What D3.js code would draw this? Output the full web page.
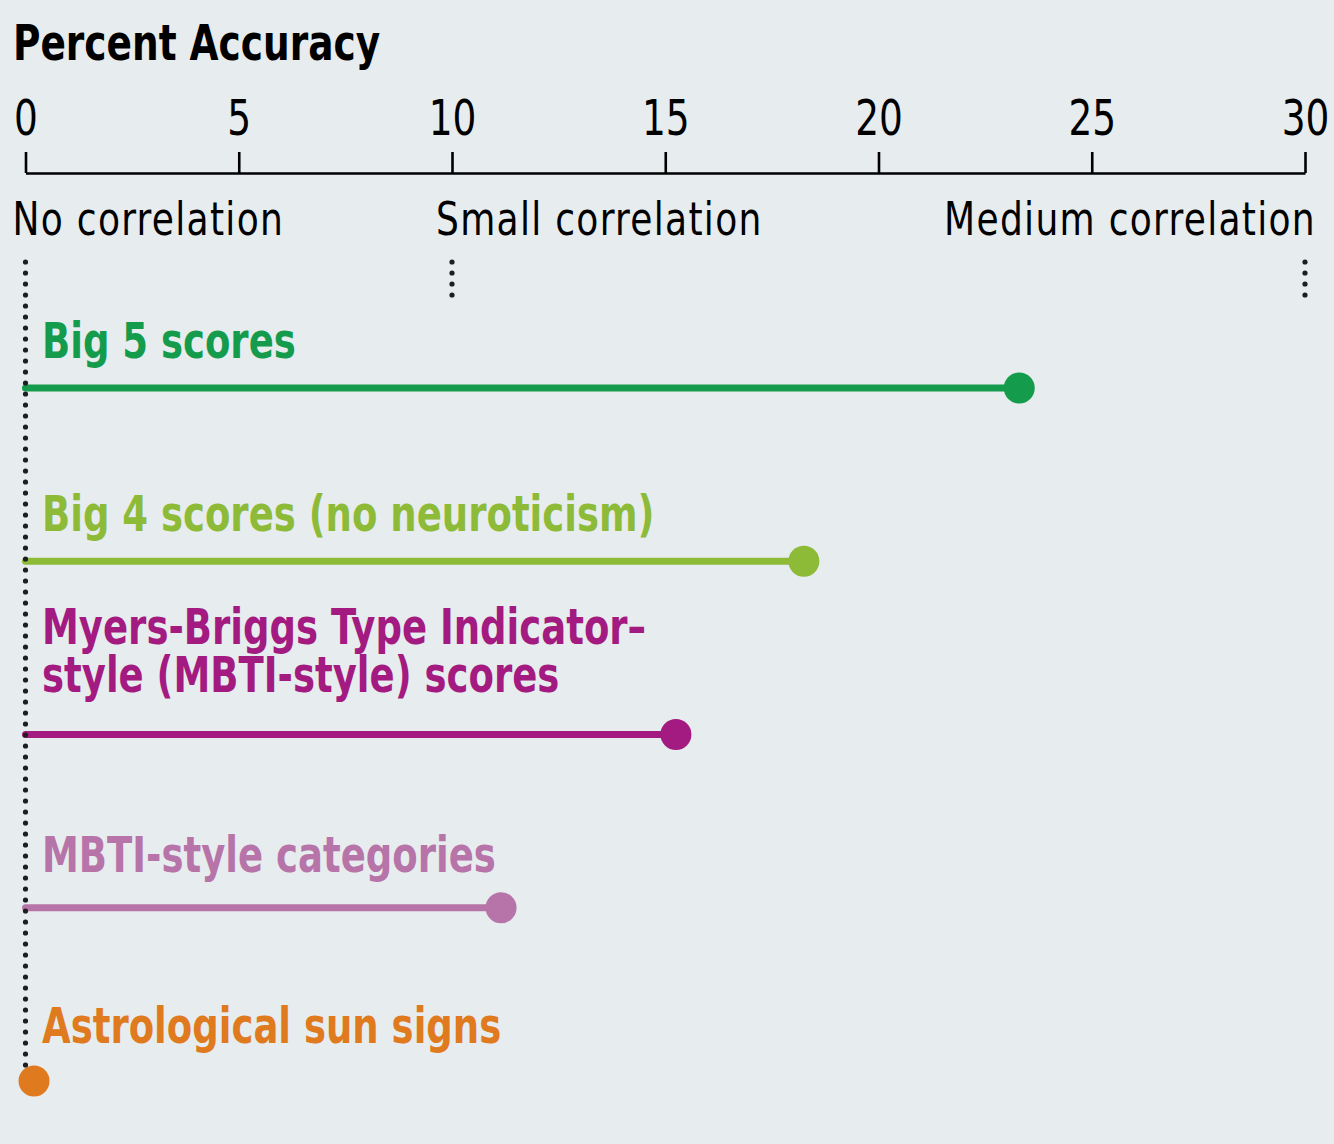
<!DOCTYPE html>
<html lang="en">
<head>
  <meta charset="UTF-8">
  <title>Percent Accuracy</title>
  <script src="https://d3js.org/d3.v7.min.js"></script>
  <style>
    body {
      margin: 0;
      background: #e7ecee;
    }
    svg {
      display: block;
      font-family: "DejaVu Sans Condensed", "DejaVu Sans", sans-serif;
    }
    .title {
      font-size: 49px;
      font-weight: bold;
      fill: #000;
    }
    .axis text {
      font-size: 49px;
      fill: #000;
      font-family: "DejaVu Sans Condensed", "DejaVu Sans", sans-serif;
    }
    .axis path, .axis line {
      stroke: #000;
      stroke-width: 2.6;
    }
    .ref-label {
      font-size: 46px;
      letter-spacing: 1.5px;
      fill: #000;
    }
    .row-label {
      font-size: 49px;
      font-weight: bold;
    }
  </style>
</head>
<body>
  <div id="chart"></div>

  <script>
    // Data
    const categories = [
      "Big 5 scores",
      "Big 4 scores (no neuroticism)",
      "Myers-Briggs Type Indicator–style (MBTI-style) scores",
      "MBTI-style categories",
      "Astrological sun signs"
    ];
    const labelLines = [
      ["Big 5 scores"],
      ["Big 4 scores (no neuroticism)"],
      ["Myers-Briggs Type Indicator–", "style (MBTI-style) scores"],
      ["MBTI-style categories"],
      ["Astrological sun signs"]
    ];
    const values = [23.3, 18.25, 15.25, 11.15, 0.2];
    const colors = ["#159b4c", "#8dbb38", "#a31a80", "#b774a9", "#e07a1f"];
    const tickValues = [0, 5, 10, 15, 20, 25, 30];
    const refLabels = ["No correlation", "Small correlation", "Medium correlation"];
    const refValues = [0, 10, 30];

    const width = 1334, height = 1144;
    // horizontal squeeze to mimic the condensed face
    const squeezeBold = 0.84, squeezeReg = 0.87, squeezeNum = 0.85;
    // gap between a label's last baseline and its stem
    const labelGap = [30, 30, 42, 36, 38];
    const lineHeight = 49;

    const svg = d3.select("#chart")
      .append("svg")
      .attr("width", width)
      .attr("height", height);

    svg.append("rect")
      .attr("width", width)
      .attr("height", height)
      .attr("fill", "#e7ecee");

    // Scales
    const x = d3.scaleLinear()
      .domain([0, 30])
      .range([25.5, 1305]);

    const y = d3.scalePoint()
      .domain(categories)
      .range([388, 1081]);

    // Title
    svg.append("text")
      .attr("class", "title")
      .attr("transform", `translate(13,60) scale(${squeezeNum},1)`)
      .text("Percent Accuracy");

    // Axis on top
    const axis = d3.axisTop(x)
      .tickValues(tickValues)
      .tickSize(21)
      .tickSizeOuter(0)
      .tickPadding(17)
      .tickFormat(d3.format("d"));

    const gAxis = svg.append("g")
      .attr("class", "axis")
      .attr("transform", "translate(0,173)")
      .call(axis);

    gAxis.selectAll("text")
      .attr("transform", `scale(${squeezeNum},1)`);

    // Reference labels
    const refAnchor = ["start", "start", "end"];
    const refShift = [-13, -16, 11];
    svg.selectAll(".ref-label")
      .data(refLabels)
      .enter()
      .append("text")
      .attr("class", "ref-label")
      .attr("transform", (d, i) => `translate(${x(refValues[i]) + refShift[i]},235) scale(${squeezeReg},1)`)
      .attr("text-anchor", (d, i) => refAnchor[i])
      .text(d => d);

    // Row labels
    const labels = svg.selectAll(".row-label")
      .data(categories)
      .enter()
      .append("text")
      .attr("class", "row-label")
      .attr("fill", (d, i) => colors[i])
      .attr("transform", (d, i) =>
        `translate(42,${y(d) - labelGap[i] - (labelLines[i].length - 1) * lineHeight}) scale(${squeezeBold},1)`);

    labels.selectAll("tspan")
      .data((d, i) => labelLines[i])
      .enter()
      .append("tspan")
      .attr("x", 0)
      .attr("dy", (d, j) => j === 0 ? 0 : lineHeight)
      .text(d => d);

    // Lollipop stems
    svg.selectAll(".stem")
      .data(categories)
      .enter()
      .append("line")
      .attr("class", "stem")
      .attr("x1", x(0))
      .attr("x2", (d, i) => x(values[i]))
      .attr("y1", d => y(d))
      .attr("y2", d => y(d))
      .attr("stroke", (d, i) => colors[i])
      .attr("stroke-width", 7)
      .attr("stroke-linecap", "round");

    // Dots
    svg.selectAll(".dot")
      .data(categories)
      .enter()
      .append("circle")
      .attr("class", "dot")
      .attr("cx", (d, i) => x(values[i]))
      .attr("cy", d => y(d))
      .attr("r", 15.5)
      .attr("fill", (d, i) => colors[i]);

    // Dotted reference lines
    const refEnds = [1072, 296, 296];
    svg.selectAll(".ref-line")
      .data(refValues)
      .enter()
      .append("line")
      .attr("class", "ref-line")
      .attr("x1", d => x(d))
      .attr("x2", d => x(d))
      .attr("y1", 262)
      .attr("y2", (d, i) => refEnds[i])
      .attr("stroke", "#1e1e1e")
      .attr("stroke-width", 5.2)
      .attr("stroke-linecap", "round")
      .attr("stroke-dasharray", "0 11");
  </script>
</body>
</html>
